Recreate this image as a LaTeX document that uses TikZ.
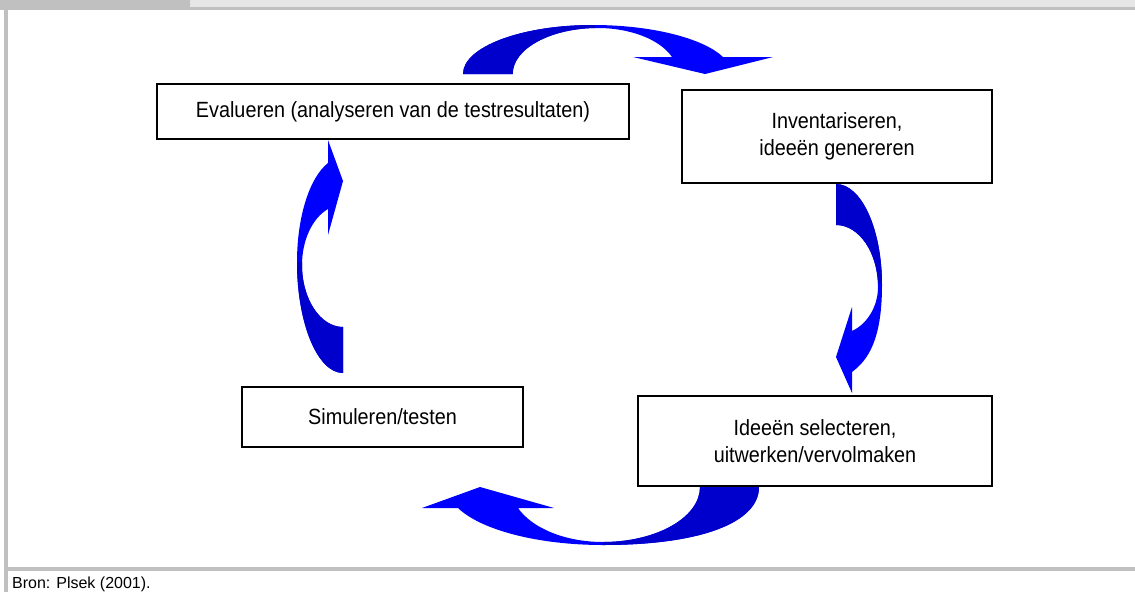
\documentclass[tikz,border=0pt]{standalone}
\usepackage{fontspec}
\setmainfont{Liberation Sans}[FakeStretch=0.9]
\newfontfamily\srcfont{Liberation Sans}
\definecolor{hdrgray}{HTML}{C0C0C0}
\definecolor{hdrlight}{HTML}{E6E6E6}
\definecolor{arrowblue}{HTML}{0000FF}
\definecolor{arrowdark}{HTML}{0000CC}
\begin{document}
\begin{tikzpicture}[x=1pt,y=-1pt,
  stepbox/.style={draw=black, line width=1.8pt, fill=white, inner sep=0pt, align=center,
    font=\fontsize{22}{27}\selectfont},
  srctext/.style={anchor=base west, inner sep=0pt, font=\srcfont\fontsize{16}{19}\selectfont}]
\useasboundingbox (0,0) rectangle (1135,592);
\fill[white] (0,0) rectangle (1135,592);
% frame
\fill[hdrgray] (0,0) rectangle (190,7);
\fill[hdrlight] (190,0) rectangle (1135,7);
\fill[hdrgray] (0,7) rectangle (1135,10);
\fill[hdrgray] (4,10) rectangle (8,592);
\fill[hdrgray] (8,567) rectangle (1135,571);

% top arrow (tail left, head pointing down at right)
\path[save path=\toparrow] (463,74) .. controls (463,47) and (521,25) .. (593,25)
  .. controls (651,25) and (703,38) .. (723,57)
  -- (773,57) -- (705,74) -- (633,57) -- (672,57)
  .. controls (660,39.5) and (630.5,28) .. (597.7,28)
  .. controls (550.8,28) and (512.7,48.6) .. (512.7,74) -- cycle;
\fill[arrowblue, use path=\toparrow];
\begin{scope}\clip (400,0) rectangle (595,100); \fill[arrowdark, use path=\toparrow]; \end{scope}

% right arrow (tail top, head pointing left at bottom)
\path[save path=\rightarr] (836,184) .. controls (861.4,184) and (882,229.2) .. (882,285)
  .. controls (882,340) and (868,360) .. (852,372)
  -- (852,393) -- (836,357) -- (852,307) -- (852,331)
  .. controls (867.7,323.7) and (878,306) .. (878,287)
  .. controls (878,252.8) and (859.2,225) .. (836,225) -- cycle;
\fill[arrowblue, use path=\rightarr];
\begin{scope}\clip (800,150) rectangle (900,282); \fill[arrowdark, use path=\rightarr]; \end{scope}

% bottom arrow (tail right, head pointing up at left)
\path[save path=\bottomarr] (759,487) .. controls (759,523) and (699.7,545) .. (603,545)
  .. controls (538.8,545) and (481.2,530.3) .. (458,508)
  -- (422,508) -- (480,487) -- (554,508) -- (518,508)
  .. controls (532.2,528.5) and (565.8,542) .. (603,542)
  .. controls (656.5,542) and (700,517.4) .. (700,487) -- cycle;
\fill[arrowblue, use path=\bottomarr];
\begin{scope}\clip (603,470) rectangle (800,560); \fill[arrowdark, use path=\bottomarr]; \end{scope}

% left arrow (tail bottom, head pointing right at top)
\path[save path=\leftarr] (343,373) .. controls (317.6,373) and (297,323.3) .. (297,262)
  .. controls (297,217.2) and (309.4,177.6) .. (328,163)
  -- (328,140) -- (343,181) -- (328,235) -- (328,209)
  .. controls (312.3,218) and (302,240.4) .. (302,265)
  .. controls (302,299.2) and (320.4,327) .. (343,327) -- cycle;
\fill[arrowblue, use path=\leftarr];
\begin{scope}\clip (280,262) rectangle (360,380); \fill[arrowdark, use path=\leftarr]; \end{scope}

% boxes
\node[stepbox, minimum width=472pt, minimum height=55pt] (eval) at (393,111.5) {Evalueren (analyseren van de testresultaten)};
\node[stepbox, minimum width=310pt, minimum height=93pt] (invent) at (837,136.5) {Inventariseren,\\ideeën genereren};
\node[stepbox, minimum width=281pt, minimum height=60pt] (simul) at (382.5,417) {Simuleren/testen};
\node[stepbox, minimum width=354pt, minimum height=90pt] (select) at (815,441) {Ideeën selecteren,\\uitwerken/vervolmaken};

\node[srctext] (src) at (12,588) {Bron: Plsek (2001).};
\end{tikzpicture}
\end{document}
